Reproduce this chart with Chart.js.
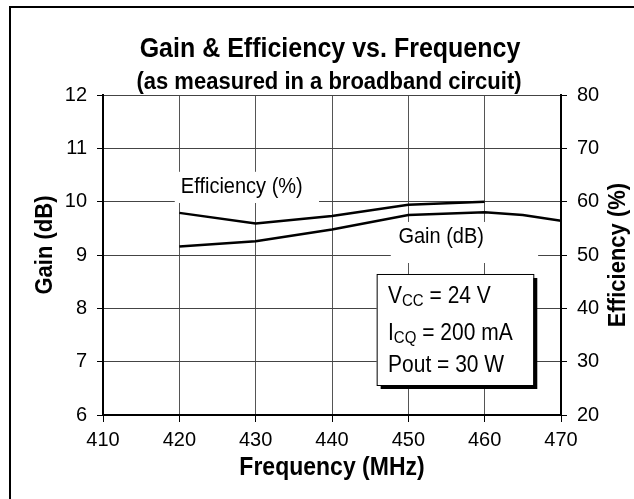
<!DOCTYPE html>
<html lang="en">
<head>
<meta charset="UTF-8">
<title>Gain & Efficiency vs. Frequency</title>
<script src="https://cdn.jsdelivr.net/npm/chart.js"></script>
<style>
  html, body { margin: 0; padding: 0; background: #fff; }
  #chart { display: block; }
</style>
</head>
<body>
<canvas id="chart" width="634" height="499"></canvas>
<script>
  // values
  const freqTicks = [410, 420, 430, 440, 450, 460, 470];
  const gainTicks = [6, 7, 8, 9, 10, 11, 12];
  const effTicks = [20, 30, 40, 50, 60, 70, 80];

  const gainFreq = [420, 430, 440, 450, 460, 465, 470];
  const gainDb = [9.16, 9.26, 9.48, 9.75, 9.80, 9.75, 9.64];
  const effFreq = [420, 430, 440, 450, 460];
  const effPct = [57.9, 55.9, 57.3, 59.4, 60.0];

  const conditions = [
    ['V', 'CC', ' = 24 V'],
    ['I', 'CQ', ' = 200 mA'],
    ['Pout = 30 W', '', '']
  ];

  const FONT = "'Liberation Sans', Arial, sans-serif";
  const STRETCH = 1.1;

  // text that is a bit taller than wide, like the scanned original
  function drawText(ctx, text, x, y, font, align, rot) {
    ctx.save();
    ctx.translate(x, y);
    if (rot) ctx.rotate(rot);
    ctx.scale(1, STRETCH);
    ctx.font = font;
    ctx.textAlign = align || 'left';
    ctx.textBaseline = 'alphabetic';
    ctx.fillStyle = '#000';
    ctx.fillText(text, 0, 0);
    ctx.restore();
  }

  const decor = {
    id: 'decor',
    beforeDatasetsDraw(chart) {
      const ctx = chart.ctx;
      const X = v => chart.scales.x.getPixelForValue(v);
      const Y = v => chart.scales.y.getPixelForValue(v);
      ctx.save();
      ctx.fillStyle = '#fff';
      // gaps in the grid behind the two line labels
      ctx.fillRect(X(419.4), Y(10.56), X(438.3) - X(419.4), Y(9.975) - Y(10.56));
      ctx.fillRect(X(447.7), Y(9.62), X(467) - X(447.7), Y(8.85) - Y(9.62));
      ctx.restore();
    },
    afterDraw(chart) {
      const ctx = chart.ctx;
      const area = chart.chartArea;
      const X = v => chart.scales.x.getPixelForValue(v);
      const Y = v => chart.scales.y.getPixelForValue(v);
      const cx = (area.left + area.right) / 2;

      // outer frame (only top and left edges are inside the picture)
      ctx.save();
      ctx.strokeStyle = '#000';
      ctx.lineWidth = 2;
      ctx.beginPath();
      ctx.moveTo(10, chart.height);
      ctx.lineTo(10, 7);
      ctx.lineTo(chart.width, 7);
      ctx.stroke();
      ctx.restore();

      drawText(ctx, 'Gain & Efficiency vs. Frequency', cx - 2, 57, 'bold 25px ' + FONT, 'center');
      drawText(ctx, '(as measured in a broadband circuit)', cx - 3, 89, 'bold 22px ' + FONT, 'center');

      drawText(ctx, 'Frequency (MHz)', cx, 475, 'bold 23px ' + FONT, 'center');
      drawText(ctx, 'Gain (dB)', 52, 245, 'bold 22px ' + FONT, 'center', -Math.PI / 2);
      drawText(ctx, 'Efficiency (%)', 625, 255, 'bold 22px ' + FONT, 'center', -Math.PI / 2);

      drawText(ctx, 'Efficiency (%)', X(420.2), Y(10.17), '20px ' + FONT, 'left');
      drawText(ctx, 'Gain (dB)', X(448.7), Y(9.225), '20px ' + FONT, 'left');

      // conditions box with drop shadow
      const bx = X(445.85), by = Y(8.644);
      const bw = X(466.37) - bx, bh = Y(6.5625) - by;
      ctx.save();
      ctx.fillStyle = '#000';
      ctx.fillRect(bx + 4, by + 4, bw, bh);
      ctx.fillStyle = '#fff';
      ctx.fillRect(bx, by, bw, bh);
      ctx.strokeStyle = '#000';
      ctx.lineWidth = 1;
      ctx.strokeRect(bx + 0.5, by + 0.5, bw, bh);
      ctx.restore();

      const rows = [8.1, 7.406, 6.806];
      conditions.forEach((c, i) => {
        let x = X(447.34);
        const y = Y(rows[i]);
        const big = '21px ' + FONT, small = '15px ' + FONT;
        drawText(ctx, c[0], x, y, big);
        ctx.font = big;
        x += ctx.measureText(c[0]).width;
        if (c[1]) {
          drawText(ctx, c[1], x, y + 3, small);
          ctx.font = small;
          x += ctx.measureText(c[1]).width;
          drawText(ctx, c[2], x, y, big);
        }
      });
    }
  };

  const tickFont = { family: FONT, size: 20 };

  new Chart(document.getElementById('chart').getContext('2d'), {
    type: 'line',
    data: {
      datasets: [
        {
          label: 'Efficiency (%)',
          data: effFreq.map((f, i) => ({ x: f, y: effPct[i] })),
          yAxisID: 'y2',
          borderColor: '#000',
          borderWidth: 2.5,
          pointRadius: 0,
          tension: 0
        },
        {
          label: 'Gain (dB)',
          data: gainFreq.map((f, i) => ({ x: f, y: gainDb[i] })),
          yAxisID: 'y',
          borderColor: '#000',
          borderWidth: 2.5,
          pointRadius: 0,
          tension: 0
        }
      ]
    },
    options: {
      responsive: false,
      animation: false,
      layout: { padding: { top: 95 } },
      plugins: {
        legend: { display: false },
        tooltip: { enabled: false }
      },
      scales: {
        x: {
          type: 'linear',
          min: 410,
          max: 470,
          afterBuildTicks: s => { s.ticks = freqTicks.map(v => ({ value: v })); },
          afterFit: s => { s.height = 84; },
          ticks: { font: tickFont, color: '#000', padding: 6, maxRotation: 0 },
          grid: { color: '#555', tickColor: '#000', tickLength: 7 },
          border: { color: '#000', width: 2 }
        },
        y: {
          position: 'left',
          min: 6,
          max: 12,
          afterBuildTicks: s => { s.ticks = gainTicks.map(v => ({ value: v })); },
          afterFit: s => { s.width = 103; },
          ticks: { font: tickFont, color: '#000', padding: 10 },
          grid: { color: '#444', tickColor: '#000', tickLength: 6 },
          border: { color: '#000', width: 2 }
        },
        y2: {
          position: 'right',
          min: 20,
          max: 80,
          afterBuildTicks: s => { s.ticks = effTicks.map(v => ({ value: v })); },
          afterFit: s => { s.width = 73; },
          ticks: { font: tickFont, color: '#000', padding: 10 },
          grid: { drawOnChartArea: false, tickColor: '#000', tickLength: 6 },
          border: { color: '#000', width: 2 }
        }
      }
    },
    plugins: [decor]
  });
</script>
</body>
</html>
